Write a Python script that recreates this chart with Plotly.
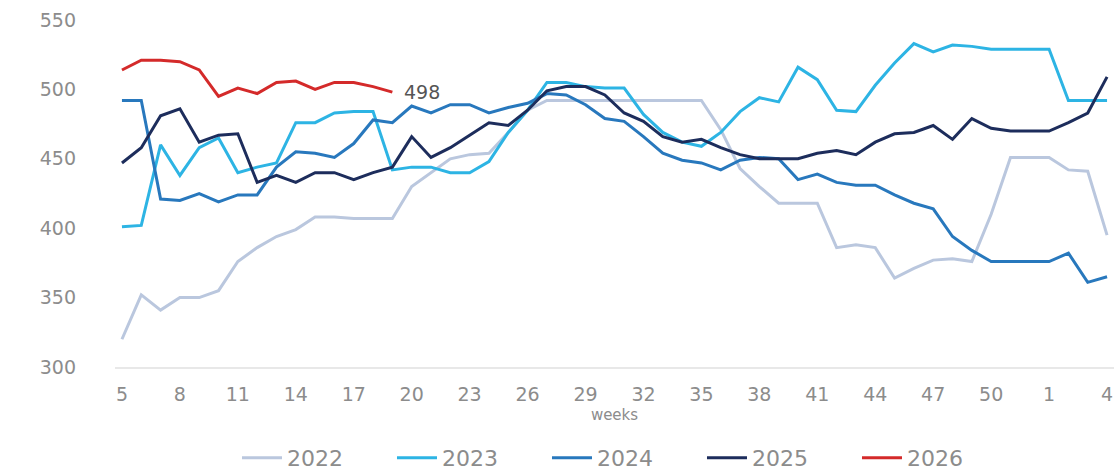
import plotly.graph_objects as go

# Week-of-year categories: week 5 through week 52, then weeks 1-4 of the next year
weeks = [str(w) for w in list(range(5, 53)) + [1, 2, 3, 4]]
tick_weeks = weeks[::3]

y2022 = [320, 352, 341, 350, 350, 355, 376, 386, 394, 399, 408, 408, 407, 407, 407,
         430, 440, 450, 453, 454, 469, 485, 492, 492, 492, 492, 492, 492, 492, 492,
         492, 471, 443, 430, 418, 418, 418, 386, 388, 386, 364, 371, 377, 378, 376,
         410, 451, 451, 451, 442, 441, 395]
y2023 = [401, 402, 460, 438, 458, 465, 440, 444, 447, 476, 476, 483, 484, 484, 442,
         444, 444, 440, 440, 448, 469, 485, 505, 505, 502, 501, 501, 482, 469, 462,
         459, 469, 484, 494, 491, 516, 507, 485, 484, 503, 519, 533, 527, 532, 531,
         529, 529, 529, 529, 492, 492, 492]
y2024 = [492, 492, 421, 420, 425, 419, 424, 424, 444, 455, 454, 451, 461, 478, 476,
         488, 483, 489, 489, 483, 487, 490, 497, 496, 489, 479, 477, 466, 454, 449,
         447, 442, 449, 451, 450, 435, 439, 433, 431, 431, 424, 418, 414, 394, 384,
         376, 376, 376, 376, 382, 361, 365]
y2025 = [447, 458, 481, 486, 462, 467, 468, 433, 438, 433, 440, 440, 435, 440, 444,
         466, 451, 458, 467, 476, 474, 485, 499, 502, 502, 496, 483, 477, 466, 462,
         464, 458, 453, 450, 450, 450, 454, 456, 453, 462, 468, 469, 474, 464, 479,
         472, 470, 470, 470, 476, 483, 509]
y2026 = [514, 521, 521, 520, 514, 495, 501, 497, 505, 506, 500, 505, 505, 502, 498]

series = [
    ("2022", y2022, "#bac7de"),
    ("2023", y2023, "#2db4e4"),
    ("2024", y2024, "#2878bd"),
    ("2025", y2025, "#1d2d5c"),
    ("2026", y2026, "#d42a2a"),
]

fig = go.Figure()
for name, vals, color in series:
    fig.add_trace(go.Scatter(
        x=weeks[:len(vals)], y=vals, name=name, mode="lines",
        line=dict(color=color, width=3),
    ))

# Label the latest 2026 reading (category axes take the serial index here)
last_idx = len(y2026) - 1
fig.add_annotation(
    x=last_idx, y=y2026[last_idx], text=str(y2026[last_idx]),
    showarrow=False, xanchor="left", xshift=10,
    font=dict(size=19, color="#555555", family="DejaVu Sans"),
)

fig.update_layout(
    width=1114, height=474,
    margin=dict(l=115, r=0, t=20, b=107, autoexpand=False),
    paper_bgcolor="white", plot_bgcolor="white",
    font=dict(family="DejaVu Sans", color="#8c8c8c"),
    showlegend=True,
    legend=dict(
        orientation="h", x=0.51, xanchor="center", y=-0.262, yanchor="middle",
        font=dict(size=22, color="#8c8c8c"),
        entrywidth=100, itemwidth=40, traceorder="normal",
    ),
)
fig.update_xaxes(
    type="category", categoryorder="array", categoryarray=weeks,
    range=[-0.36, 51.36],
    tickmode="array", tickvals=tick_weeks, ticktext=tick_weeks,
    showgrid=False, showline=True, linecolor="#e8e8e8", linewidth=1.5,
    ticks="", ticklabelstandoff=9,
    tickfont=dict(size=19, color="#8c8c8c"),
    title=dict(text="weeks", font=dict(size=15, color="#8c8c8c"), standoff=6),
    zeroline=False,
)
fig.update_yaxes(
    range=[300, 550], tickvals=[300, 350, 400, 450, 500, 550],
    showgrid=False, showline=False, zeroline=False,
    ticks="", ticklabelstandoff=38,
    tickfont=dict(size=19, color="#8c8c8c"),
)

fig.write_html("out.html")
